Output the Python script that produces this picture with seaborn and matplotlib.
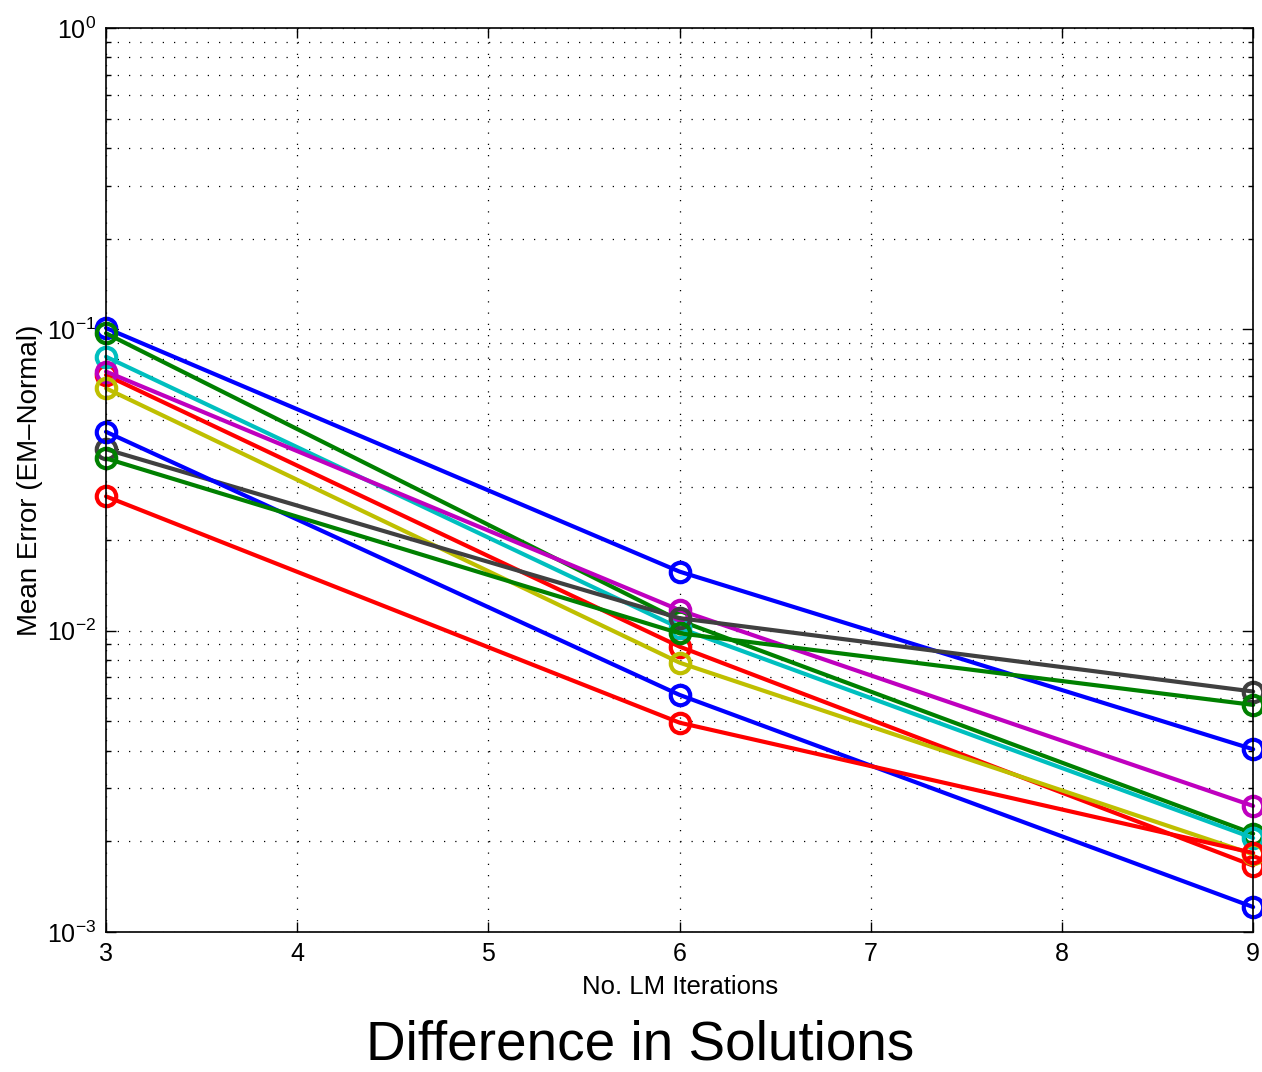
import numpy as np
import pandas as pd
import seaborn as sns
import matplotlib.pyplot as plt
from matplotlib.ticker import LogLocator, FixedLocator, NullFormatter

iterations = [3, 6, 9]
series_names = ["b1", "g1", "r1", "c1", "m1", "y1", "k1", "b2", "g2", "r2"]
blue_a = [0.101, 0.0157, 0.00404]
green_a = [0.097, 0.0108, 0.00212]
red_a = [0.0705, 0.00885, 0.00166]
cyan_a = [0.0811, 0.0102, 0.00205]
magenta_a = [0.0724, 0.0117, 0.00262]
yellow_a = [0.0637, 0.00783, 0.00181]
gray_a = [0.0400, 0.0110, 0.00628]
blue_b = [0.0457, 0.00612, 0.00121]
green_b = [0.0373, 0.0098, 0.00567]
red_b = [0.0279, 0.00495, 0.00183]

colors = ["#0000ff", "#008000", "#ff0000", "#00bfbf", "#bf00bf",
          "#bfbf00", "#404040", "#0000ff", "#008000", "#ff0000"]

all_vals = [blue_a, green_a, red_a, cyan_a, magenta_a, yellow_a, gray_a,
            blue_b, green_b, red_b]
rows = []
for name, vals in zip(series_names, all_vals):
    for x, v in zip(iterations, vals):
        rows.append({"iter": x, "err": v, "run": name})
df = pd.DataFrame(rows)

sns.set_style("white")
plt.rcParams['font.family'] = ['Liberation Sans', 'DejaVu Sans']
plt.rcParams['mathtext.fontset'] = 'custom'
plt.rcParams['mathtext.rm'] = 'Liberation Sans'
plt.rcParams['mathtext.default'] = 'regular'
plt.rcParams['text.color'] = 'black'
plt.rcParams['axes.labelcolor'] = 'black'
plt.rcParams['xtick.color'] = 'black'
plt.rcParams['ytick.color'] = 'black'

fig = plt.figure(figsize=(12.62, 10.72), dpi=100)
ax = fig.add_axes([0.084, 0.1306, 0.909, 0.8433])

sns.lineplot(data=df, x="iter", y="err", hue="run", hue_order=series_names,
             palette=colors, marker="o", markersize=14, linewidth=3,
             legend=False, ax=ax)
for ln in ax.lines:
    ln.set_markeredgecolor(ln.get_color())
    ln.set_markerfacecolor("none")
    ln.set_markeredgewidth(3)
    ln.set_clip_on(False)

ax.set_yscale("log")
ax.set_xlim(3, 9)
ax.set_ylim(1e-3, 1)
ax.xaxis.set_major_locator(FixedLocator([3, 4, 5, 6, 7, 8, 9]))
ax.yaxis.set_major_locator(LogLocator(base=10, numticks=10))
ax.yaxis.set_minor_locator(LogLocator(base=10, subs=np.arange(2, 10), numticks=20))
ax.yaxis.set_minor_formatter(NullFormatter())

grid_style = dict(color="black", linestyle=(0, (1, 8)), linewidth=0.9)
ax.grid(True, which="major", axis="both", **grid_style)
ax.grid(True, which="minor", axis="y", **grid_style)

for sp in ax.spines.values():
    sp.set_color("black")
    sp.set_linewidth(1.2)
    sp.set_visible(True)

ax.tick_params(which="both", direction="in", top=True, right=True,
               bottom=True, left=True, color="black", labelcolor="black")
ax.tick_params(which="major", length=7, width=1, labelsize=18, pad=7)
ax.tick_params(which="minor", length=3.5, width=1)

ax.set_xlabel("No. LM Iterations", fontsize=18.5, labelpad=7)
ax.set_ylabel("Mean Error (EM\u2013Normal)", fontsize=20, labelpad=3)

fig.text(0.507, 0.025, "Difference in Solutions", fontsize=39.5,
         ha="center", va="center", color="black")

fig.savefig("out.png", dpi=100)
